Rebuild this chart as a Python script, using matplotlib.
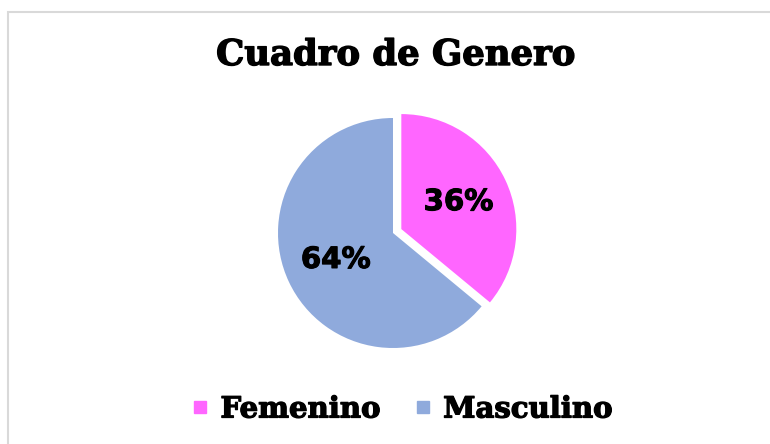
import matplotlib
matplotlib.use("Agg")
import matplotlib.pyplot as plt
import matplotlib.patheffects as pe
from matplotlib.lines import Line2D
from matplotlib.patches import Rectangle

categories = ["Femenino", "Masculino"]
values = [36, 64]
colors = ["#FF66FF", "#8FAADC"]
title = "Cuadro de Genero"

W, H = 770, 444
fig = plt.figure(figsize=(W / 100, H / 100), dpi=100)
fig.patch.set_facecolor("white")

heavy = [pe.withStroke(linewidth=1.0, foreground="black")]

# frame (top and left lines visible)
fig.add_artist(Rectangle((7.5 / W, -0.1), 1.2, 1.1 - 12 / H,
                         transform=fig.transFigure, fill=False,
                         edgecolor="#D9D9D9", linewidth=1.5))

r_px = 115
cx, cy = 393, 233
side = 2.4 * r_px
ax = fig.add_axes([(cx - side / 2) / W, (H - cy - side / 2) / H, side / W, side / H])
wedges, texts, autotexts = ax.pie(
    values, colors=colors, startangle=90, counterclock=False,
    explode=[0.08, 0], autopct=lambda p: f"{p:.0f}%", pctdistance=0.55,
    textprops=dict(fontsize=21, fontweight="bold", family="DejaVu Sans", color="black"),
    wedgeprops=dict(linewidth=0))
for t in autotexts:
    t.set_path_effects([pe.withStroke(linewidth=0.8, foreground="black")])
ax.set_xlim(-1.2, 1.2)
ax.set_ylim(-1.2, 1.2)
ax.set_aspect("equal")
ax.axis("off")

fig.text(396 / W, 1 - 55 / H, title, ha="center", va="center",
         fontsize=25.5, fontweight="bold", family="DejaVu Serif",
         path_effects=heavy)

handles = [Line2D([], [], marker="s", linestyle="none", markersize=8.5,
                  markerfacecolor=c, markeredgecolor=c) for c in colors]
leg = fig.legend(handles, categories, loc="center", bbox_to_anchor=(402 / W, 1 - 409 / H),
                 ncol=2, frameon=False, handlelength=0.6, handletextpad=0.4,
                 columnspacing=1.15,
                 prop=dict(size=21, weight="bold", family="DejaVu Serif"))
for t in leg.get_texts():
    t.set_path_effects([pe.withStroke(linewidth=0.9, foreground="black")])

fig.savefig("out.png", dpi=100)
